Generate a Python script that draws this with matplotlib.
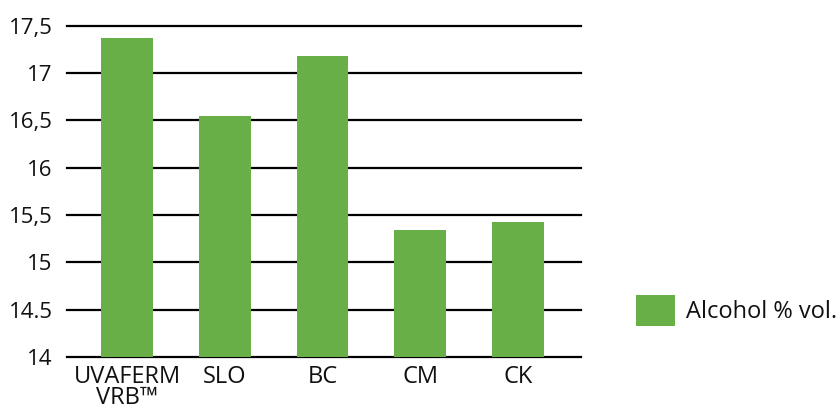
import matplotlib
matplotlib.use("Agg")
import matplotlib.pyplot as plt

categories = ["UVAFERM\nVRB™", "SLO", "BC", "CM", "CK"]
values = [17.37, 16.55, 17.18, 15.34, 15.42]
series_name = "Alcohol % vol."
ytick_values = [14, 14.5, 15, 15.5, 16, 16.5, 17, 17.5]
ytick_labels = ["14", "14.5", "15", "15,5", "16", "16,5", "17", "17,5"]

plt.rcParams['font.family'] = ['Open Sans', 'DejaVu Sans']

W, H = 837, 412
fig = plt.figure(figsize=(W / 100, H / 100), dpi=100)
left = 66.7 / W
right = 580.7 / W
bottom = (H - 356.8) / H
top = (H - 25.7) / H
ax = fig.add_axes([left, bottom, right - left, top - bottom])

green = "#69AF48"
x = list(range(len(categories)))
ax.bar(x, [v - 14 for v in values], bottom=14, width=0.53, color=green,
       zorder=2, label=series_name)
for v in ytick_values:
    ax.axhline(v, color="black", lw=1.6, zorder=1, clip_on=False)

ax.set_xlim(-0.617, 4.64)
ax.set_ylim(14, 17.5)
ax.set_yticks(ytick_values)
ax.set_yticklabels(ytick_labels, fontsize=16, color="#111111")
ax.set_xticks(x)
ax.set_xticklabels(categories, fontsize=17, color="#111111", linespacing=0.85)
ax.tick_params(axis="both", length=0)
ax.tick_params(axis="y", pad=10)
ax.tick_params(axis="x", pad=6)
for s in ax.spines.values():
    s.set_visible(False)

leg = fig.legend(loc="center left", bbox_to_anchor=(636 / W, 1 - 310.5 / H),
                 frameon=False, fontsize=17, handlelength=1.65, handleheight=1.65,
                 handletextpad=0.47, borderpad=0, borderaxespad=0, labelcolor="#111111")

fig.savefig("out.png", dpi=100)
